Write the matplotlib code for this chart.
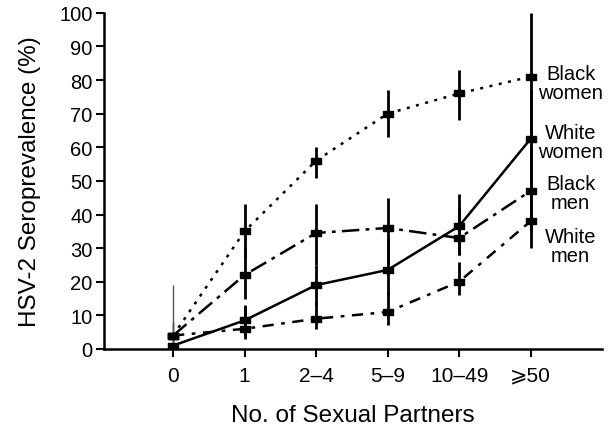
import numpy as np
import matplotlib
matplotlib.use('Agg')
import matplotlib.pyplot as plt

plt.rcParams['font.family'] = ['Liberation Sans', 'DejaVu Sans']

# Categories on the x axis
categories = ['0', '1', '2\u20134', '5\u20139', '10\u201349', '\u2a7e50']

# Seroprevalence (%) and rough confidence limits per group
black_women = [4, 35, 56, 70, 76, 81]
black_women_lo = [0, 27, 51, 63, 68, 62]
black_women_hi = [19, 43, 60, 77, 83, 100]

black_men = [4, 22, 34.5, 36, 33, 47]
black_men_lo = [0, 15, 25, 25, 28, 35]
black_men_hi = [8, 30, 43, 45, 42, 60]

white_women = [1, 8.5, 19, 23.5, 36.5, 62.5]
white_women_lo = [0, 4, 13, 16, 28, 47]
white_women_hi = [3, 13, 25, 33, 46, 77]

white_men = [4, 6, 9, 11, 20, 38]
white_men_lo = [1, 3, 6, 7, 16, 30]
white_men_hi = [8, 12.5, 14, 17, 26, 47]

series = [
    ('Black\nwomen', black_women, black_women_lo, black_women_hi, (0, (1.2, 2.6)), 79),
    ('White\nwomen', white_women, white_women_lo, white_women_hi, '-', 61.5),
    ('Black\nmen', black_men, black_men_lo, black_men_hi, (0, (7, 2.5, 1.5, 2.5)), 46.5),
    ('White\nmen', white_men, white_men_lo, white_men_hi, (0, (4.5, 3, 1.5, 3)), 30.5),
]

x = np.arange(len(categories))
rect = [(-1.4, -1), (1.4, -1), (1.4, 1), (-1.4, 1), (-1.4, -1)]

fig = plt.figure(figsize=(6.1, 4.31), dpi=100)
ax = fig.add_axes([0.170, 0.188, 0.817, 0.780])

for label, vals, lo, hi, ls, ty in series:
    ax.plot(x, vals, color='black', lw=1.8, ls=ls, zorder=3)
    ax.vlines(x[1:], lo[1:], hi[1:], color='black', lw=2, zorder=2, clip_on=False)
    ax.vlines(x[:1], lo[:1], hi[:1], color='#555555', lw=1, zorder=2)
    ax.plot(x, vals, ls='none', marker=rect, ms=7, color='black', zorder=4)
    ax.text(5.56, ty, label, ha='center', va='center', fontsize=14.5,
            linespacing=1.0, multialignment='center')

ax.set_xlim(-0.97, 6.0)
ax.set_ylim(0, 100)
ax.set_xticks(x)
ax.set_xticklabels(categories, fontsize=15)
ax.set_yticks(range(0, 101, 10))
ax.tick_params(axis='y', labelsize=14.5, width=1.5, length=6, pad=2)
ax.tick_params(axis='x', width=1.5, length=6, pad=6)
for s in ['top', 'right']:
    ax.spines[s].set_visible(False)
for s in ['left', 'bottom']:
    ax.spines[s].set_linewidth(1.8)

ax.set_ylabel('HSV-2 Seroprevalence (%)', fontsize=17.5, labelpad=13)
ax.set_xlabel('No. of Sexual Partners', fontsize=17.5, labelpad=14)

fig.savefig('out.png', dpi=100)
